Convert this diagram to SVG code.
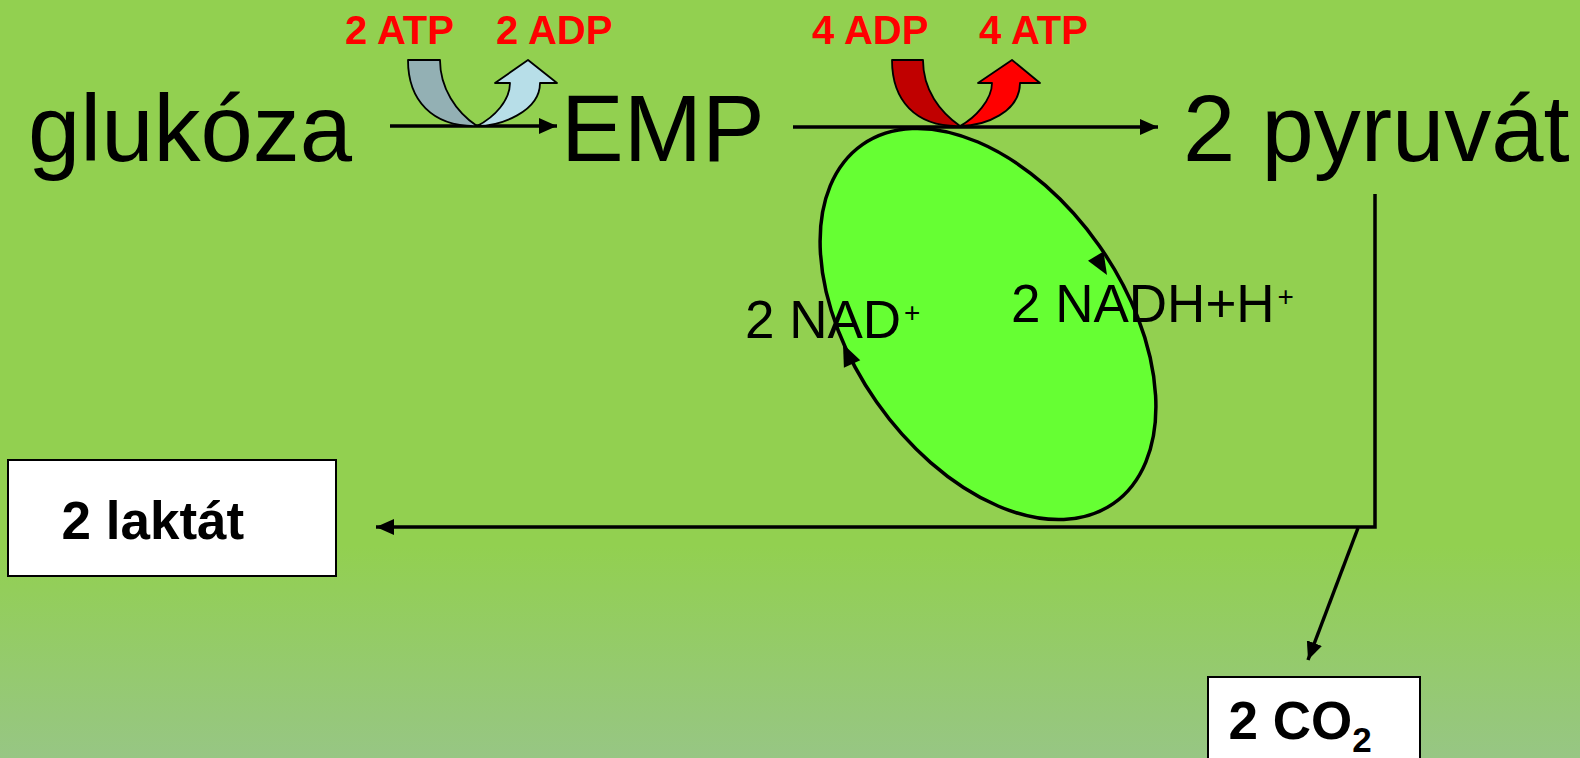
<svg xmlns="http://www.w3.org/2000/svg" width="1580" height="758" viewBox="0 0 1580 758">
<defs>
<linearGradient id="bg" x1="0" y1="0" x2="0" y2="1">
<stop offset="0" stop-color="#92D050"/>
<stop offset="0.72" stop-color="#92D050"/>
<stop offset="1" stop-color="#97C684"/>
</linearGradient>
<marker id="ah" markerUnits="userSpaceOnUse" markerWidth="19" markerHeight="16" refX="18" refY="8" orient="auto">
<path d="M0,0 L18,8 L0,16 z" fill="#000"/>
</marker>
<path id="tri" d="M0,0 L-22,-9 L-22,9 z" fill="#000"/>
</defs>
<style>
.big{font-family:"Liberation Sans",Arial,sans-serif;font-size:94px;fill:#000}
.red{font-family:"Liberation Sans",Arial,sans-serif;font-size:40px;font-weight:bold;fill:#FF0000}
.mid{font-family:"Liberation Sans",Arial,sans-serif;font-size:53px;fill:#000}
.box{font-family:"Liberation Sans",Arial,sans-serif;font-size:53px;font-weight:bold;fill:#000}
.ln{stroke:#000;stroke-width:3.5;fill:none}
.cur{stroke:#000;stroke-width:1.8;stroke-linejoin:round}
</style>
<rect x="0" y="0" width="1580" height="758" fill="url(#bg)"/>

<g id="connectors">
<line class="ln" x1="390" y1="126" x2="557" y2="126" marker-end="url(#ah)"/>
<line class="ln" x1="793" y1="127" x2="1158" y2="127" marker-end="url(#ah)"/>
<polyline class="ln" points="1375,194 1375,527 376,527" marker-end="url(#ah)"/>
<line class="ln" x1="1358" y1="528" x2="1308" y2="660" marker-end="url(#ah)"/>
</g>

<g id="atp-in">
<path class="cur" fill="#93B0B4" d="M408,60 L440,60 C440,88 456,112 477,126 C432,127 408,100 408,60 Z"/>
<text class="red" x="345" y="44">2 ATP</text>
</g>
<g id="adp-out">
<path class="cur" fill="#B7DEE8" d="M477,126 C500,126 540,112 540,83 L557,83 L528,60 L495,83 L510,83 C510,100 495,117 477,126 Z"/>
<text class="red" x="496" y="44">2 ADP</text>
</g>
<g id="adp-in">
<path class="cur" fill="#C00000" d="M892,60 L923,60 C923,90 940,112 960,126 C915,127 892,100 892,60 Z"/>
<text class="red" x="812" y="44">4 ADP</text>
</g>
<g id="atp-out">
<path class="cur" fill="#FF0000" d="M960,126 C985,126 1020,112 1020,83 L1040,83 L1012,60 L978,83 L992,83 C992,100 975,118 960,126 Z"/>
<text class="red" x="979" y="44">4 ATP</text>
</g>

<g id="nad-cycle">
<ellipse cx="988" cy="324" rx="219" ry="136" transform="rotate(55 988 324)" fill="#66FF33" stroke="#000" stroke-width="3.5"/>
</g>

<g id="glukoza"><text class="big" x="28" y="161">glukóza</text></g>
<g id="emp"><text class="big" x="561" y="161">EMP</text></g>
<g id="pyruvat"><text class="big" x="1183" y="161">2 pyruvát</text></g>

<g id="nad"><text class="mid" x="745" y="338">2 NAD<tspan font-size="28" dx="3" dy="-16">+</tspan></text></g>
<g id="nadh"><text class="mid" x="1011" y="322">2 NADH+H<tspan font-size="28" dx="3" dy="-16">+</tspan></text></g>

<g id="cycle-arrowheads">
<use href="#tri" transform="translate(1107,275) rotate(59.3)"/>
<use href="#tri" transform="translate(843,344) rotate(-114.4)"/>
</g>

<g id="laktat">
<rect x="8" y="460" width="328" height="116" fill="#fff" stroke="#000" stroke-width="2"/>
<text class="box" x="61.5" y="539">2 laktát</text>
</g>
<g id="co2">
<rect x="1208" y="677" width="212" height="100" fill="#fff" stroke="#000" stroke-width="2"/>
<text class="box" x="1228.5" y="739">2 CO<tspan font-size="35" dy="13">2</tspan></text>
</g>
</svg>
